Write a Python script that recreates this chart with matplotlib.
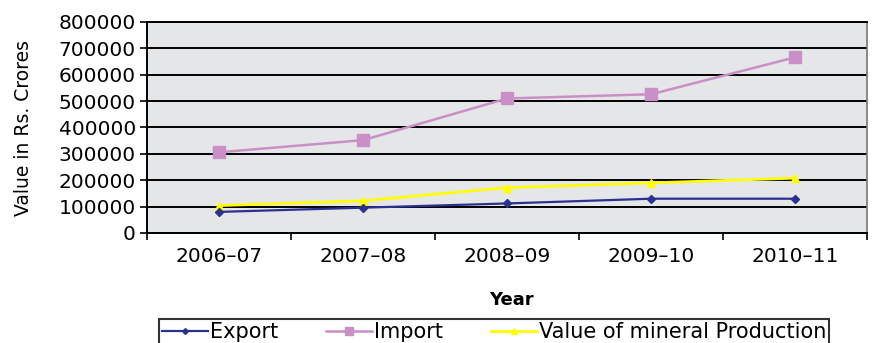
import matplotlib
matplotlib.use("Agg")
import matplotlib.pyplot as plt
import numpy as np

# values in Rs. crores
years = ["2006\u201307", "2007\u201308", "2008\u201309", "2009\u201310", "2010\u201311"]
export = [80000, 96000, 112000, 130000, 130000]
imports = [306000, 352000, 510000, 526000, 666000]
mineral_prod = [104000, 122000, 172000, 190000, 208000]

plt.rcParams['font.family'] = ['DejaVu Sans']

fig = plt.figure(figsize=(8.78, 3.43), dpi=100)
ax = fig.add_axes([147/878, 1 - 233/343, (867 - 147)/878, (233 - 22)/343])
ax.set_facecolor("#e5e6e7")

x = np.arange(len(years))
ax.plot(x, export, color="#2b3190", lw=1.6, marker="D", ms=4.5, label="Export", zorder=4)
ax.plot(x, imports, color="#c98fc6", lw=1.8, marker="s", ms=9, label="Import", zorder=3)
ax.plot(x, mineral_prod, color="#ffff00", lw=2, marker="^", ms=6,
        label="Value of mineral Production", zorder=3)

ax.set_xlim(-0.5, len(years) - 0.5)
ax.set_ylim(0, 800000)
ax.set_yticks(np.arange(0, 800001, 100000))
ax.set_yticklabels([str(v) for v in range(0, 800001, 100000)], fontsize=14.5)
ax.grid(axis="y", color="black", lw=1.4)
ax.set_axisbelow(True)

ax.set_xticks(x)
ax.set_xticklabels(years, fontsize=14.5)
ax.set_xticks(np.arange(-0.5, len(years)), minor=True)
ax.tick_params(axis="x", which="major", length=0, pad=10)
ax.tick_params(axis="x", which="minor", length=5, width=1.2, direction="out")
ax.tick_params(axis="y", length=5, width=1.2, direction="out", pad=3)

for side in ["left", "bottom", "top"]:
    ax.spines[side].set_color("black")
    ax.spines[side].set_linewidth(1.4)
ax.spines["right"].set_color("#777777")
ax.spines["right"].set_linewidth(1.2)

ax.set_ylabel("Value in Rs. Crores", fontsize=13.5)
ax.yaxis.set_label_coords(-0.158, 0.5)
fig.text(511/878, 1 - 300/343, "Year", fontsize=13, fontweight="bold",
         ha="center", va="center")

leg = fig.legend(loc="upper left", bbox_to_anchor=(159/878, 1 - 319/343),
                 ncol=3, fontsize=15, frameon=True, fancybox=False,
                 handlelength=2.2, handletextpad=0.1, columnspacing=2.3,
                 borderpad=0.15, borderaxespad=0)
leg.get_frame().set_edgecolor("black")
leg.get_frame().set_linewidth(1.5)
for h in leg.legend_handles:
    h.set_markersize(h.get_markersize() * 0.65)

fig.savefig("out.png", dpi=100)
